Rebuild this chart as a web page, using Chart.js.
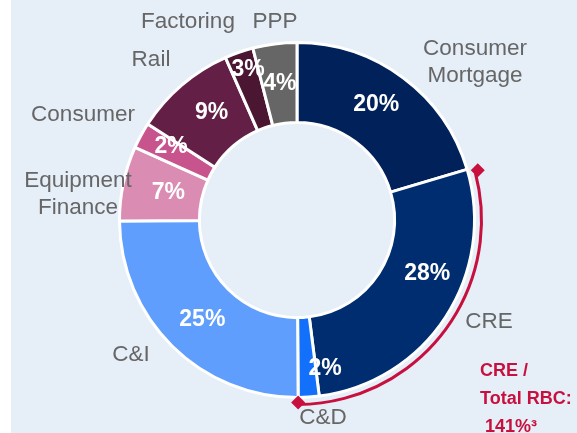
<!DOCTYPE html>
<html>
<head>
<meta charset="utf-8">
<script src="https://cdn.jsdelivr.net/npm/chart.js@4.4.0/dist/chart.umd.min.js"></script>
<style>
  body { margin: 0; background: #fff; }
  #wrap {
    position: relative; width: 577px; height: 433px; overflow: hidden;
    background: linear-gradient(to right, #fff 11px, #e6eef8 11px);
  }
  #note {
    position: absolute; left: 480px; top: 356px;
    font: bold 18px "Liberation Sans", Arial, sans-serif;
    color: #c8103e; line-height: 28px; white-space: nowrap;
  }
</style>
</head>
<body>
<div id="wrap">
  <canvas id="loans" width="577" height="433"></canvas>
  <div id="note">CRE /<br>Total RBC:<br>&nbsp;141%³</div>
</div>
<script>
// loan mix, clockwise from 12 o'clock
const categories = ["Consumer\nMortgage", "CRE", "C&D", "C&I", "Equipment\nFinance", "Consumer", "Rail", "Factoring", "PPP"];
const shares = [20.4, 27.6, 1.9, 25.0, 6.8, 2.4, 9.3, 2.6, 4.0];
const sliceColors = ["#01215a", "#002d6f", "#1270fb", "#5f9efd", "#da8cb3", "#c8548d", "#631f45", "#4a1632", "#666666"];

// label placement, relative to the chart centre / the slice centroid
const nameOffsets = [[178, -158], [192, 102], [26, 198], [-166, 135], [-219, -26], [-214, -105], [-146, -160], [-109, -198], [-22, -198]];
const pctNudge = [[-3, -5], [15, -22], [19, 11], [2, 2], [6, 1], [-5, -8], [4, -3], [-4, -20], [0, 0]];

const FONT = '"Liberation Sans", Arial, sans-serif';

const labelsPlugin = {
    id: 'sliceLabels',
    afterDatasetsDraw(chart) {
        const ctx = chart.ctx;
        const arcs = chart.getDatasetMeta(0).data;
        const cx = arcs[0].x, cy = arcs[0].y;
        ctx.save();

        // CRE / C&D bracket outside the ring
        const r = arcs[1].outerRadius + 7;
        const a0 = arcs[1].startAngle, a1 = arcs[2].endAngle;
        ctx.strokeStyle = '#c8103e';
        ctx.lineWidth = 3;
        ctx.beginPath();
        ctx.arc(cx, cy, r, a0 + 0.03, a1);
        ctx.stroke();
        ctx.fillStyle = '#c8103e';
        [[a0 + 0.02, r + 3], [a1, r - 2]].forEach(([a, rr]) => {
            const px = cx + rr * Math.cos(a), py = cy + rr * Math.sin(a);
            ctx.beginPath();
            ctx.moveTo(px, py - 7);
            ctx.lineTo(px + 7, py);
            ctx.lineTo(px, py + 7);
            ctx.lineTo(px - 7, py);
            ctx.closePath();
            ctx.fill();
        });

        ctx.textAlign = 'center';
        ctx.textBaseline = 'middle';

        // percentages inside the slices
        ctx.fillStyle = '#ffffff';
        ctx.font = 'bold 23px ' + FONT;
        arcs.forEach((arc, i) => {
            const p = arc.tooltipPosition();
            ctx.fillText(Math.round(shares[i]) + '%', p.x + pctNudge[i][0], p.y + pctNudge[i][1]);
        });

        // category names around the ring
        ctx.fillStyle = '#666666';
        ctx.font = '22.5px ' + FONT;
        categories.forEach((name, i) => {
            const lines = name.split('\n');
            const x = cx + nameOffsets[i][0];
            const y0 = cy + nameOffsets[i][1] - (lines.length - 1) * 13.5;
            lines.forEach((ln, k) => ctx.fillText(ln, x, y0 + k * 27));
        });
        ctx.restore();
    }
};

new Chart(document.getElementById('loans'), {
    type: 'doughnut',
    data: {
        labels: categories,
        datasets: [{
            data: shares,
            backgroundColor: sliceColors,
            borderColor: '#ffffff',
            borderWidth: 3,
            hoverOffset: 0,
            offset: 0
        }]
    },
    options: {
        responsive: false,
        animation: false,
        devicePixelRatio: 1,
        events: [],
        cutout: '55%',
        layout: { padding: { left: 118, right: 101, top: 41, bottom: 34 } },
        plugins: {
            legend: { display: false },
            tooltip: { enabled: false }
        }
    },
    plugins: [labelsPlugin]
});
</script>
</body>
</html>
